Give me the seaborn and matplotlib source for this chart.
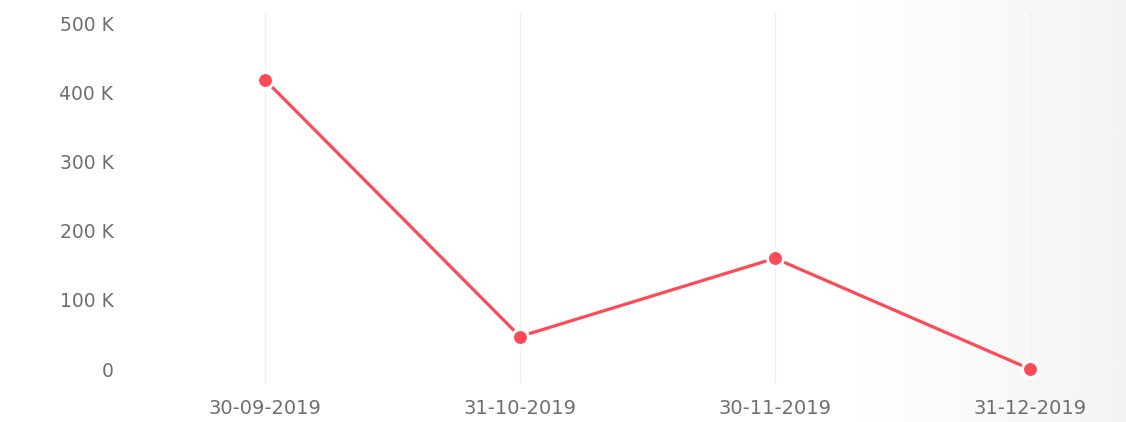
#!/usr/bin/env python3

import numpy as np
import pandas as pd
import seaborn as sns
import matplotlib
matplotlib.use("Agg")
import matplotlib.pyplot as plt
from matplotlib.ticker import FuncFormatter

dates = ["30-09-2019", "31-10-2019", "30-11-2019", "31-12-2019"]
values = [418000, 47000, 160000, 0]
y_ticks = [0, 100000, 200000, 300000, 400000, 500000]

df = pd.DataFrame({"date": dates, "value": values})

sns.set_theme(style="white")
plt.rcParams["font.family"] = ["DejaVu Sans"]

fig = plt.figure(figsize=(11.26, 4.22), dpi=100)

# soft grey fade on the right side of the background
bg = fig.add_axes([0, 0, 1, 1], zorder=-10)
xs = np.linspace(0, 1, 400)
grad = np.tile(1.0 - 0.045 * np.clip((xs - 0.74) / 0.26, 0, 1), (2, 1))
bg.imshow(grad, cmap="gray", vmin=0, vmax=1, aspect="auto", extent=[0, 1, 0, 1])
bg.axis("off")

ax = fig.add_axes([0.1155, 0.0924, 0.8615, 0.879])
ax.patch.set_alpha(0)

color = "#fd4a57"
sns.lineplot(data=df, x="date", y="value", ax=ax, color=color, linewidth=2.3,
             marker="o", markersize=11.5, markeredgecolor="white", markeredgewidth=2.2,
             sort=False)

ax.set_xlim(-0.529, 3.275)
ax.set_ylim(-20200, 515900)
ax.set_yticks(y_ticks)
ax.yaxis.set_major_formatter(FuncFormatter(lambda v, p: "0" if v == 0 else "{:d} K".format(int(v / 1000))))
ax.set_xlabel("")
ax.set_ylabel("")

ax.grid(axis="x", color="#f0f0f0", linewidth=1)
ax.grid(axis="y", visible=False)
for s in ax.spines.values():
    s.set_visible(False)

ax.tick_params(axis="y", length=0, pad=12, labelsize=13.5, labelcolor="#6c706c")
ax.tick_params(axis="x", length=0, pad=11.5, labelsize=14, labelcolor="#6c706c")

fig.savefig("out.png", dpi=100)
